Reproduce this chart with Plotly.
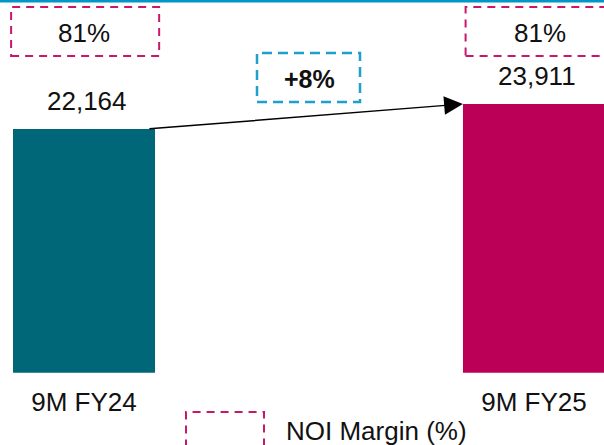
import plotly.graph_objects as go

# Net operating income by period
periods = ["9M FY24", "9M FY25"]
noi = [22164, 23911]
noi_margin = [81, 81]
bar_colors = ["#006778", "#bb0057"]

FONT = "Liberation Sans, Arial, sans-serif"
MAGENTA = "#c8186e"
BLUE = "#1ea0cc"

growth = round((noi[1] / noi[0] - 1) * 100)

fig = go.Figure(
    go.Bar(
        x=periods,
        y=noi,
        marker=dict(color=bar_colors, line=dict(width=0)),
        width=0.3156,
        hoverinfo="skip",
    )
)

annotations = []
shapes = []

# value labels above each bar
for p, v in zip(periods, noi):
    annotations.append(dict(
        x=p, y=v, xref="x", yref="y", text=f"{v:,}", showarrow=False,
        yanchor="bottom", yshift=11, xshift=3,
        font=dict(family=FONT, size=26, color="#111111"),
    ))

# NOI margin boxes along the top
box_x = [(-0.162, 0.167), (0.848, 1.20)]
for p, m, (x0, x1), xs in zip(periods, noi_margin, box_x, [0, 6]):
    annotations.append(dict(
        x=p, y=1 - 33 / 445, xref="x", yref="paper", text=f"{m}%", showarrow=False,
        xshift=xs, yanchor="middle",
        font=dict(family=FONT, size=26, color="#111111"),
    ))
    shapes.append(dict(
        type="rect", xref="x", yref="paper", x0=x0, x1=x1, y0=0.874, y1=0.984,
        line=dict(color=MAGENTA, width=2, dash="8px,6px"), fillcolor="rgba(0,0,0,0)",
    ))

# growth arrow between bar tops
annotations.append(dict(
    x=0.842, y=noi[1], ax=0.142, ay=noi[0], xref="x", yref="y", axref="x", ayref="y",
    text="", showarrow=True, arrowhead=2, arrowsize=2.5, arrowwidth=1.5,
    arrowcolor="#000000", standoff=0, startstandoff=0,
))

# growth callout
annotations.append(dict(
    x=309 / 604, y=1 - 79 / 445, xref="paper", yref="paper", text=f"<b>+{growth}%</b>",
    showarrow=False, xanchor="center", yanchor="middle",
    font=dict(family=FONT, size=25, color="#111111"),
))
shapes.append(dict(
    type="rect", xref="paper", yref="paper", x0=257 / 604, x1=360 / 604,
    y0=1 - 102 / 445, y1=1 - 53 / 445,
    line=dict(color=BLUE, width=2.5, dash="10px,6px"), fillcolor="rgba(0,0,0,0)",
))

# legend entry for the margin boxes
shapes.append(dict(
    type="rect", xref="paper", yref="paper", x0=186 / 604, x1=264 / 604,
    y0=-0.08, y1=1 - 412 / 445,
    line=dict(color=MAGENTA, width=2, dash="8px,6px"), fillcolor="rgba(0,0,0,0)",
))
annotations.append(dict(
    x=284 / 604, y=1 - 431 / 445, xref="paper", yref="paper", text="NOI Margin (%)",
    showarrow=False, xanchor="left", yanchor="middle",
    font=dict(family=FONT, size=26, color="#111111"),
))

# accent rule at the top edge
shapes.append(dict(
    type="rect", xref="paper", yref="paper", x0=0, x1=1, y0=1 - 2.5 / 445, y1=1.01,
    line=dict(width=0), fillcolor="#0096c6",
))

fig.update_layout(
    width=604, height=445,
    margin=dict(l=0, r=0, t=0, b=0),
    paper_bgcolor="white", plot_bgcolor="white",
    showlegend=False,
    annotations=annotations,
    shapes=shapes,
    xaxis=dict(
        range=[-0.1867, 1.1556], showgrid=False, zeroline=False, showline=False,
        ticks="", ticklabelstandoff=11,
        tickfont=dict(family=FONT, size=26, color="#111111"),
    ),
    yaxis=dict(
        domain=[1 - 372.7 / 445, 1], range=[5134, 31178],
        visible=False, showgrid=False, zeroline=False,
    ),
)

fig.write_html("out.html")
